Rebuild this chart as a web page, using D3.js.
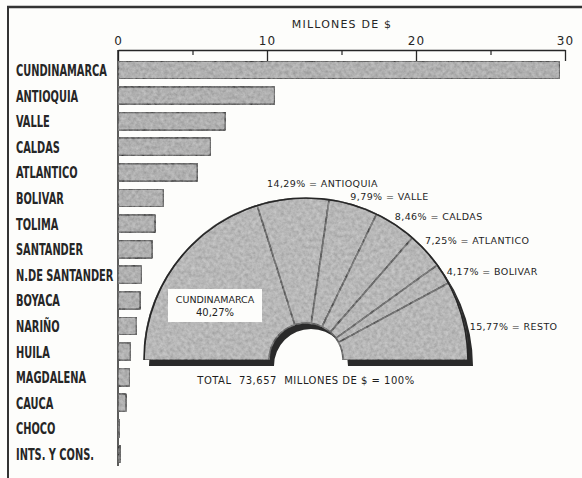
<!DOCTYPE html>
<html>
<head>
<meta charset="utf-8">
<script src="https://cdn.jsdelivr.net/npm/d3@7"></script>
<style>
  html, body { margin: 0; padding: 0; background: #fdfdfb; }
  svg { display: block; }
</style>
</head>
<body>
<svg id="chart" width="582" height="478"></svg>
<script>
// ---------------- DATA ----------------
const categories = ["CUNDINAMARCA", "ANTIOQUIA", "VALLE", "CALDAS", "ATLANTICO", "BOLIVAR",
  "TOLIMA", "SANTANDER", "N.DE SANTANDER", "BOYACA", "NARIÑO", "HUILA", "MAGDALENA",
  "CAUCA", "CHOCO", "INTS. Y CONS."];
const values = [29.66, 10.53, 7.21, 6.23, 5.34, 3.07, 2.5, 2.3, 1.6, 1.5, 1.25, 0.85, 0.8, 0.55, 0.1, 0.15];
const xTicks = [0, 10, 20, 30];
const xMinorTicks = [5, 15, 25];
const axisTitle = "MILLONES DE $";

const pieNames = ["CUNDINAMARCA", "ANTIOQUIA", "VALLE", "CALDAS", "ATLANTICO", "BOLIVAR", "RESTO"];
const pieShares = [40.27, 14.29, 9.79, 8.46, 7.25, 4.17, 15.77];
const totalText = "TOTAL  73,657  MILLONES DE $ = 100%";

// ---------------- DRAW ----------------
const svg = d3.select("#chart");
const ink = "#262626";

// soft mottled print texture
const defs = svg.append("defs");
const f = defs.append("filter").attr("id", "grain").attr("x", 0).attr("y", 0).attr("width", 1).attr("height", 1);
f.append("feTurbulence").attr("type", "fractalNoise").attr("baseFrequency", 0.28).attr("numOctaves", 3).attr("seed", 7).attr("result", "n");
f.append("feColorMatrix").attr("in", "n").attr("type", "matrix")
  .attr("values", "1 0 0 0 0  1 0 0 0 0  1 0 0 0 0  0 0 0 0 0.3").attr("result", "na");
f.append("feComposite").attr("in", "na").attr("in2", "SourceGraphic").attr("operator", "in").attr("result", "clip");
const fm = f.append("feMerge");
fm.append("feMergeNode").attr("in", "SourceGraphic");
fm.append("feMergeNode").attr("in", "clip");

// frame
svg.append("line").attr("x1", 7).attr("x2", 582).attr("y1", 7).attr("y2", 7)
  .attr("stroke", "#333").attr("stroke-width", 2.5);
svg.append("line").attr("x1", 8).attr("x2", 8).attr("y1", 6).attr("y2", 478)
  .attr("stroke", "#333").attr("stroke-width", 2);

const x = d3.scaleLinear().domain([0, 30]).range([118, 565]);
const y = d3.scaleBand().domain(categories).range([57.2, 466.8]).paddingInner(0.3).paddingOuter(0.15);

// axis
const axisY = 50;
const ax = svg.append("g").attr("transform", `translate(0,${axisY})`)
  .call(d3.axisTop(x).tickValues(xTicks).tickSizeInner(-11).tickSizeOuter(0).tickPadding(5));
ax.select(".domain").attr("stroke", ink).attr("stroke-width", 1.3);
ax.selectAll(".tick line").attr("stroke", ink).attr("stroke-width", 1.3);
ax.selectAll(".tick text").attr("font-family", "DejaVu Sans, sans-serif").attr("font-size", 12)
  .attr("fill", ink).attr("letter-spacing", 1);
const axm = svg.append("g").attr("transform", `translate(0,${axisY})`)
  .call(d3.axisTop(x).tickValues(xMinorTicks).tickSizeInner(-5).tickSizeOuter(0).tickFormat(""));
axm.select(".domain").remove();
axm.selectAll(".tick line").attr("stroke", ink).attr("stroke-width", 1.2);

svg.append("text").attr("x", 342).attr("y", 28).attr("text-anchor", "middle")
  .attr("font-family", "DejaVu Sans, sans-serif").attr("font-size", 11).attr("letter-spacing", 1.2)
  .attr("fill", ink).text(axisTitle);

// zero divider line
svg.append("line").attr("x1", x(0)).attr("x2", x(0)).attr("y1", axisY).attr("y2", 466)
  .attr("stroke", ink).attr("stroke-width", 1.5);

// bars
svg.append("g").selectAll("rect").data(categories).join("rect")
  .attr("x", x(0))
  .attr("y", d => y(d))
  .attr("width", (d, i) => Math.max(1, x(values[i]) - x(0)))
  .attr("height", y.bandwidth())
  .attr("rx", 2)
  .attr("fill", "#ababab")
  .attr("stroke", ink).attr("stroke-width", 2)
  .attr("filter", "url(#grain)");

// category labels (condensed bold)
const lab = svg.append("g").selectAll("text").data(categories).join("text")
  .attr("font-family", "DejaVu Sans Condensed, DejaVu Sans, sans-serif")
  .attr("font-weight", "bold").attr("font-size", 16).attr("fill", ink)
  .text(d => d);
const refW = lab.nodes()[0].getComputedTextLength();
const k = 91 / refW;
lab.attr("transform", d => `translate(16,${y(d) + y.bandwidth() / 2 + 6}) scale(${k},1)`);

// ---------------- semicircle ----------------
const cx = 306, cy = 360, rIn = 37, rOut = 162;
const pg = svg.append("g").attr("transform", `translate(${cx},${cy})`);
const full = d3.arc().innerRadius(rIn).outerRadius(rOut).startAngle(-Math.PI / 2).endAngle(Math.PI / 2);
pg.append("path").attr("d", full()).attr("transform", "translate(5,6)").attr("fill", "#2a2a2a");

const pie = d3.pie().sort(null).startAngle(-Math.PI / 2).endAngle(Math.PI / 2)(pieShares);
const arc = d3.arc().innerRadius(rIn).outerRadius(rOut);
pg.selectAll("path.slice").data(pie).join("path").attr("class", "slice")
  .attr("d", arc)
  .attr("fill", "#b6b6b6")
  .attr("stroke", ink).attr("stroke-width", 1.6)
  .attr("filter", "url(#grain)");

// outer arc outline
pg.append("path").attr("d", d3.arc().innerRadius(rOut).outerRadius(rOut).startAngle(-Math.PI / 2).endAngle(Math.PI / 2)())
  .attr("fill", "none").attr("stroke", ink).attr("stroke-width", 1.6);

const fmt = v => d3.format(".2f")(v).replace(".", ",") + "%";

// slice labels
const labelNudge = [null, [-25, -2], [-6, 4], [-6, 4], [-8, 0], [-5, 6], [-3, 12]];
const R = 172;
pie.forEach((d, i) => {
  if (i === 0) return;
  const a = (d.startAngle + d.endAngle) / 2;
  const px = cx + R * Math.sin(a) + labelNudge[i][0];
  const py = cy - R * Math.cos(a) + labelNudge[i][1];
  svg.append("text").attr("x", px).attr("y", py)
    .attr("font-family", "DejaVu Sans, sans-serif").attr("font-size", 9.5)
    .attr("fill", "#1e1e1e").attr("letter-spacing", 0.4)
    .text(fmt(pieShares[i]) + " = " + pieNames[i]);
});

// Cundinamarca box
svg.append("rect").attr("x", 168).attr("y", 289).attr("width", 94).attr("height", 33).attr("fill", "#fdfdfb");
svg.append("text").attr("x", 215).attr("y", 303).attr("text-anchor", "middle")
  .attr("font-family", "DejaVu Sans, sans-serif").attr("font-size", 9.5).attr("fill", "#1e1e1e")
  .text(pieNames[0]);
svg.append("text").attr("x", 215).attr("y", 316).attr("text-anchor", "middle")
  .attr("font-family", "DejaVu Sans, sans-serif").attr("font-size", 10).attr("fill", "#1e1e1e")
  .text(fmt(pieShares[0]));

svg.append("text").attr("x", cx).attr("y", 384).attr("text-anchor", "middle")
  .attr("font-family", "DejaVu Sans, sans-serif").attr("font-size", 10).attr("letter-spacing", 0.5)
  .attr("fill", "#1e1e1e").style("white-space", "pre").text(totalText);
</script>
</body>
</html>
